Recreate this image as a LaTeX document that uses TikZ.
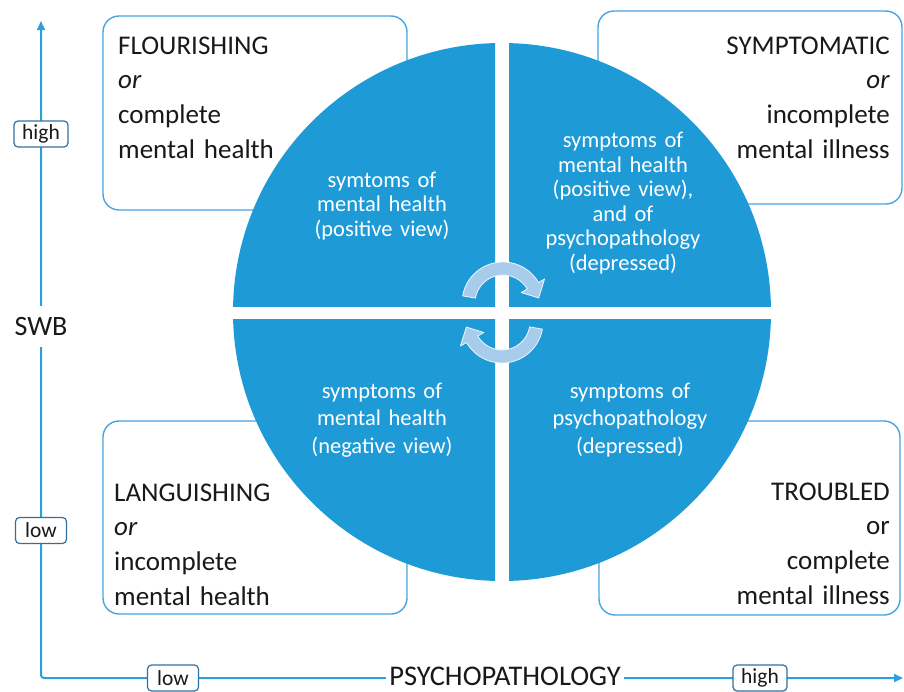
\documentclass[tikz,border=0pt]{standalone}
\usepackage{fontspec}
\setmainfont{Carlito}
\usetikzlibrary{arrows.meta}

\definecolor{quadblue}{RGB}{30,155,215}
\definecolor{frameblue}{RGB}{70,165,225}
\definecolor{axisblue}{RGB}{45,160,220}
\definecolor{tagblue}{RGB}{50,112,160}
\definecolor{turnfill}{RGB}{168,205,236}
\definecolor{inkblack}{RGB}{25,25,25}

\tikzset{
  frame/.style={draw=frameblue, line width=1.4pt, fill=white, rounded corners=16pt},
  quadrant/.style={fill=quadblue},
  boxtext/.style={text=inkblack, font=\fontsize{27}{34.7}\selectfont, text width=280pt, inner sep=0pt},
  circtext/.style={text=white, text width=200pt, align=center, inner sep=0pt, anchor=base},
  tag/.style={draw=tagblue, line width=1.2pt, fill=white, rounded corners=4pt,
    font=\fontsize{21.5}{24}\selectfont, inner sep=0pt, minimum height=26pt, text=inkblack},
  axisline/.style={draw=axisblue, line width=2pt, rounded corners=3pt},
  turnarrow/.style={fill=turnfill, draw=white!80!turnfill, line width=0.8pt, line join=round},
  axistitle/.style={fill=white, text=inkblack, inner sep=0pt},
}

\begin{document}
\begin{tikzpicture}[x=1pt, y=-1pt]
\useasboundingbox (0,0) rectangle (904,691);

% outcome boxes behind the disc
\draw[frame] (103,16) rectangle (407,210);
\draw[frame] (598,11) rectangle (902,204);
\draw[frame] (103,421) rectangle (407,614);
\draw[frame] (599,421) rectangle (900,615);

% the disc, split into four quadrants
\begin{scope}
  \clip (225,35) rectangle (495,306);
  \fill[quadrant] (502,312) circle (269);
\end{scope}
\begin{scope}
  \clip (509,35) rectangle (780,306);
  \fill[quadrant] (502,312) circle (269);
\end{scope}
\begin{scope}
  \clip (225,319.5) rectangle (495,590);
  \fill[quadrant] (502,312) circle (269);
\end{scope}
\begin{scope}
  \clip (509,319.5) rectangle (780,590);
  \fill[quadrant] (502,312) circle (269);
\end{scope}

% quadrant texts
\node[circtext, font=\fontsize{22.5}{24.5}\selectfont] (qtl) at (382,187)
  {symtoms of\\mental health\\(positive view)};
\node[circtext, font=\fontsize{22.5}{24.5}\selectfont] (qtr) at (623,147.5)
  {symptoms of\\mental health\\(positive view),\\and of\\psychopathology\\(depressed)};
\node[circtext, font=\fontsize{22.5}{27.5}\selectfont] (qbl) at (382,398)
  {symptoms of\\mental health\\(negative view)};
\node[circtext, font=\fontsize{22.5}{27.5}\selectfont] (qbr) at (630,398)
  {symptoms of\\psychopathology\\(depressed)};

% circular arrows in the centre
\begin{scope}[shift={(503,303)}]
  \draw[turnarrow] (190:41) arc[start angle=190, end angle=330, radius=41]
    -- (330:48) -- (352:36) -- (330:21) -- (330:28)
    arc[start angle=330, end angle=190, radius=28] -- cycle;
\end{scope}
\begin{scope}[shift={(502,322)}]
  \draw[turnarrow] (10:41) arc[start angle=10, end angle=150, radius=41]
    -- (150:48) -- (172:36) -- (150:21) -- (150:28)
    arc[start angle=150, end angle=10, radius=28] -- cycle;
\end{scope}

% box texts
\node[boxtext, align=left, anchor=base west] (flour) at (118,54)
  {FLOURISHING\\\textit{or}\\complete\\mental health};
\node[boxtext, align=right, anchor=base east] (sympt) at (890,54)
  {SYMPTOMATIC\\\textit{or}\\incomplete\\mental illness};
\node[boxtext, align=left, anchor=base west] (lang) at (114,501)
  {LANGUISHING\\\textit{or}\\incomplete\\mental health};
\node[boxtext, align=right, anchor=base east] (troub) at (890,500)
  {TROUBLED\\or\\complete\\mental illness};

% axes
\coordinate (origin) at (41,678);
\coordinate (ytip) at (41,21);
\coordinate (xtip) at (903,678);
\draw[axisline, {Triangle[length=9pt,width=8pt]}-{Triangle[length=9pt,width=8pt]}]
  (ytip) -- (origin) -- (xtip);

\node[axistitle, font=\fontsize{28}{30}\selectfont, minimum height=41pt] (swb) at (41,326.5) {SWB};
\node[axistitle, font=\fontsize{28.5}{30}\selectfont, inner xsep=3pt, minimum height=24pt] (psy) at (505,676.5) {PSYCHOPATHOLOGY};

\node[tag, minimum width=54pt] (yhigh) at (41,134) {high};
\node[tag, minimum width=51pt] (ylow) at (41,530.5) {low};
\node[tag, minimum width=51pt] (xlow) at (173,678) {low};
\node[tag, minimum width=54pt] (xhigh) at (760,678) {high};

\end{tikzpicture}
\end{document}
